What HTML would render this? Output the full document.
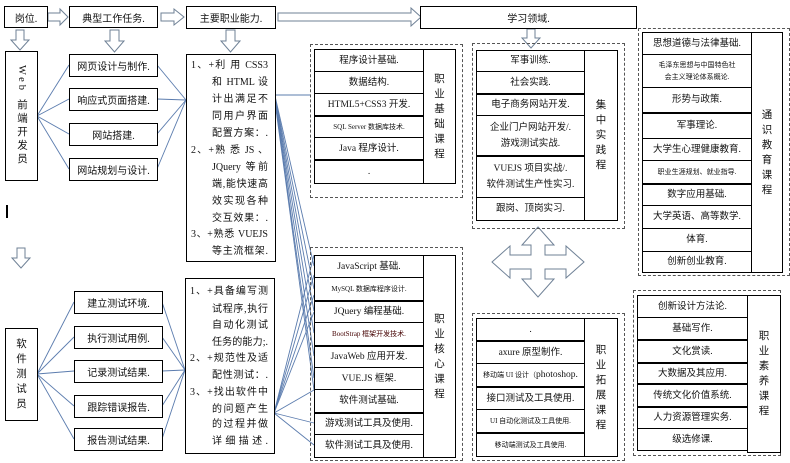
<!DOCTYPE html>
<html><head><meta charset="utf-8"><style>
body{margin:0;width:790px;height:463px;background:#fff;position:relative;overflow:hidden;font-family:"Liberation Serif","Noto Sans CJK SC",sans-serif;color:#111}
.b{position:absolute;border:1px solid #000;box-sizing:border-box;display:flex;align-items:center;justify-content:center;font-size:10px;background:#fff;white-space:nowrap}
.d{position:absolute;border:1px dashed #555;box-sizing:border-box}
.t{position:absolute;font-size:10px;line-height:12px;white-space:nowrap}
.j{text-align:justify;text-align-last:justify}
.v{position:absolute;border:1px solid #000;box-sizing:border-box;font-size:10.5px;line-height:15px;text-align:center;display:flex;align-items:center;justify-content:center;background:#fff}
.r{position:absolute;border:1px solid #000;box-sizing:border-box;font-size:9.5px;display:flex;align-items:center;justify-content:center;text-align:center;line-height:16px;background:#fff;white-space:nowrap}
.s{font-size:7px}
</style></head><body>
<svg width="790" height="463" style="position:absolute;left:0;top:0">
<g fill="#fff" stroke="#6f8196" stroke-width="1">
<polygon points="48,13 60,13 60,9 68,17 60,25 60,21 48,21"/>
<polygon points="161,13 174,13 174,9 184,17 174,25 174,21 161,21"/>
<polygon points="278,13 411,13 411,8 421,17 411,26 411,21 278,21"/>
<polygon points="16,30 24,30 24,40 29,40 20,50 11,40 16,40"/>
<polygon points="110,30 119,30 119,41 124,41 114.5,52 105,41 110,41"/>
<polygon points="226,30 235,30 235,41 240,41 230.5,52 221,41 226,41"/>
<polygon points="527,29 535,29 535,38 540,38 531,48 522,38 527,38"/>
<polygon points="17,248 25,248 25,258 30,258 21,268 12,258 17,258"/>
<polygon points="538,227 554,245 545,245 545,255 566,255 566,246 584,262 566,278 566,269 545,269 545,279 554,279 538,297 522,279 531,279 531,269 510,269 510,278 492,262 510,246 510,255 531,255 531,245 522,245"/>
</g>
<g stroke="#5b7cae" stroke-width="0.9" fill="none">
<line x1="37" y1="116" x2="69" y2="65"/><line x1="37" y1="116" x2="69" y2="99"/><line x1="37" y1="116" x2="69" y2="134"/><line x1="37" y1="116" x2="69" y2="169"/>
<line x1="157" y1="65" x2="186" y2="100"/><line x1="157" y1="99" x2="186" y2="100"/><line x1="157" y1="134" x2="186" y2="100"/><line x1="157" y1="169" x2="186" y2="100"/>
<line x1="37" y1="374" x2="74" y2="302"/><line x1="37" y1="374" x2="74" y2="337"/><line x1="37" y1="374" x2="74" y2="371"/><line x1="37" y1="374" x2="74" y2="406"/><line x1="37" y1="374" x2="74" y2="439"/>
<line x1="162" y1="302" x2="185" y2="370"/><line x1="162" y1="337" x2="185" y2="370"/><line x1="162" y1="371" x2="185" y2="370"/><line x1="162" y1="406" x2="185" y2="370"/><line x1="162" y1="439" x2="185" y2="370"/>
<line x1="275" y1="95" x2="310" y2="95"/>
<line x1="275" y1="96" x2="314" y2="266"/><line x1="275" y1="97" x2="314" y2="289"/><line x1="275" y1="98" x2="314" y2="311"/><line x1="275" y1="99" x2="314" y2="333"/><line x1="275" y1="100" x2="314" y2="356"/><line x1="275" y1="101" x2="314" y2="378"/><line x1="275" y1="102" x2="314" y2="390"/>
<line x1="274" y1="413" x2="314" y2="255"/><line x1="274" y1="413" x2="314" y2="275"/><line x1="274" y1="413" x2="314" y2="295"/><line x1="274" y1="413" x2="314" y2="312"/>
<line x1="274" y1="413" x2="314" y2="390"/><line x1="274" y1="413" x2="314" y2="423"/><line x1="274" y1="413" x2="314" y2="445"/>
</g>
<rect x="6" y="205" width="2" height="13" fill="#000"/>
</svg>

<div class="b" style="left:4px;top:6px;width:44px;height:22px">岗位.</div>
<div class="b" style="left:69px;top:6px;width:89px;height:22px">典型工作任务.</div>
<div class="b" style="left:186px;top:6px;width:90px;height:23px">主要职业能力.</div>
<div class="b" style="left:420px;top:6px;width:217px;height:23px">学习领域.</div>

<div class="v" style="left:5px;top:51px;width:33px;height:130px"><span style="writing-mode:vertical-rl;letter-spacing:3px">Web 前端开发员</span></div>
<div class="v" style="left:5px;top:328px;width:33px;height:93px">软<br>件<br>测<br>试<br>员</div>

<div class="b" style="left:69px;top:54px;width:89px;height:23px">网页设计与制作.</div>
<div class="b" style="left:69px;top:88px;width:89px;height:23px">响应式页面搭建.</div>
<div class="b" style="left:69px;top:123px;width:89px;height:23px">网站搭建.</div>
<div class="b" style="left:69px;top:158px;width:89px;height:23px">网站规划与设计.</div>

<div class="b" style="left:74px;top:291px;width:89px;height:23px">建立测试环境.</div>
<div class="b" style="left:74px;top:326px;width:89px;height:23px">执行测试用例.</div>
<div class="b" style="left:74px;top:360px;width:89px;height:23px">记录测试结果.</div>
<div class="b" style="left:74px;top:395px;width:89px;height:23px">跟踪错误报告.</div>
<div class="b" style="left:74px;top:428px;width:89px;height:23px">报告测试结果.</div>

<div class="b" style="left:186px;top:54px;width:90px;height:208px"></div>
<div class="t j" style="left:191px;top:60px;width:77px">1、+利 用 CSS3</div>
<div class="t j" style="left:212px;top:77px;width:56px">和 HTML 设</div>
<div class="t j" style="left:212px;top:94px;width:56px">计出满足不</div>
<div class="t j" style="left:212px;top:111px;width:56px">同用户界面</div>
<div class="t j" style="left:212px;top:128px;width:56px">配置方案：.</div>
<div class="t j" style="left:191px;top:145px;width:77px">2、+熟 悉 JS 、</div>
<div class="t j" style="left:212px;top:162px;width:56px">JQuery 等前</div>
<div class="t j" style="left:212px;top:179px;width:56px">端,能快速高</div>
<div class="t j" style="left:212px;top:196px;width:56px">效实现各种</div>
<div class="t j" style="left:212px;top:213px;width:56px">交互效果：.</div>
<div class="t j" style="left:191px;top:229px;width:77px">3、+熟悉 VUEJS</div>
<div class="t j" style="left:212px;top:246px;width:56px">等主流框架.</div>

<div class="b" style="left:185px;top:278px;width:90px;height:176px"></div>
<div class="t j" style="left:190px;top:286px;width:78px">1、+具备编写测</div>
<div class="t j" style="left:212px;top:304px;width:56px">试程序,执行</div>
<div class="t j" style="left:212px;top:320px;width:56px">自动化测试</div>
<div class="t j" style="left:212px;top:337px;width:56px">任务的能力;.</div>
<div class="t j" style="left:190px;top:353px;width:78px">2、+规范性及适</div>
<div class="t j" style="left:212px;top:370px;width:56px">配性测试：.</div>
<div class="t j" style="left:190px;top:387px;width:78px">3、+找出软件中</div>
<div class="t j" style="left:212px;top:404px;width:56px">的问题产生</div>
<div class="t j" style="left:212px;top:419px;width:56px">的过程并做</div>
<div class="t j" style="left:212px;top:436px;width:56px">详细描述.</div>

<!-- 职业基础课程 -->
<div class="d" style="left:310px;top:44px;width:153px;height:154px"></div>
<div class="r" style="left:314px;top:49px;width:110px;height:23px">程序设计基础.</div>
<div class="r" style="left:314px;top:71px;width:110px;height:23px">数据结构.</div>
<div class="r" style="left:314px;top:93px;width:110px;height:23px">HTML5+CSS3 开发.</div>
<div class="r" style="left:314px;top:115px;width:110px;height:23px;border-top-width:2px"><span class="s">SQL Server 数据库技术.</span></div>
<div class="r" style="left:314px;top:137px;width:110px;height:23px">Java 程序设计.</div>
<div class="r" style="left:314px;top:159px;width:110px;height:25px;border-top-width:2px">.</div>
<div class="v" style="left:423px;top:49px;width:33px;height:135px">职<br>业<br>基<br>础<br>课<br>程</div>

<!-- 集中实践课程 -->
<div class="d" style="left:472px;top:43px;width:153px;height:186px"></div>
<div class="r" style="left:476px;top:50px;width:109px;height:22px">军事训练.</div>
<div class="r" style="left:476px;top:71px;width:109px;height:23px">社会实践.</div>
<div class="r" style="left:476px;top:93px;width:109px;height:23px;border-top-width:2px">电子商务网站开发.</div>
<div class="r" style="left:476px;top:115px;width:109px;height:41px">企业门户网站开发/.<br>游戏测试实战.</div>
<div class="r" style="left:476px;top:155px;width:109px;height:43px;border-top-width:2px">VUEJS 项目实战/.<br>软件测试生产性实习.</div>
<div class="r" style="left:476px;top:197px;width:109px;height:24px">跟岗、顶岗实习.</div>
<div class="v" style="left:584px;top:50px;width:34px;height:171px">集<br>中<br>实<br>践<br>程</div>

<!-- 通识教育课程 -->
<div class="d" style="left:638px;top:28px;width:152px;height:248px"></div>
<div class="r" style="left:642px;top:32px;width:110px;height:23px">思想道德与法律基础.</div>
<div class="r" style="left:642px;top:54px;width:110px;height:34px;line-height:12px"><span class="s">毛泽东思想与中国特色社<br>会主义理论体系概论.</span></div>
<div class="r" style="left:642px;top:87px;width:110px;height:26px">形势与政策.</div>
<div class="r" style="left:642px;top:112px;width:110px;height:27px;border-top-width:2px">军事理论.</div>
<div class="r" style="left:642px;top:138px;width:110px;height:23px">大学生心理健康教育.</div>
<div class="r" style="left:642px;top:160px;width:110px;height:24px"><span class="s">职业生涯规划、就业指导.</span></div>
<div class="r" style="left:642px;top:183px;width:110px;height:23px;border-top-width:2px">数字应用基础.</div>
<div class="r" style="left:642px;top:205px;width:110px;height:24px">大学英语、高等数学.</div>
<div class="r" style="left:642px;top:228px;width:110px;height:24px">体育.</div>
<div class="r" style="left:642px;top:251px;width:110px;height:22px">创新创业教育.</div>
<div class="v" style="left:751px;top:32px;width:32px;height:241px">通<br>识<br>教<br>育<br>课<br>程</div>

<!-- 职业核心课程 -->
<div class="d" style="left:310px;top:247px;width:153px;height:214px"></div>
<div class="r" style="left:314px;top:255px;width:110px;height:23px">JavaScript 基础.</div>
<div class="r" style="left:314px;top:277px;width:110px;height:24px"><span class="s">MySQL 数据库程序设计.</span></div>
<div class="r" style="left:314px;top:300px;width:110px;height:23px;border-top-width:2px">JQuery 编程基础.</div>
<div class="r" style="left:314px;top:322px;width:110px;height:24px"><span class="s" style="color:#400">BootStrap 框架开发技术.</span></div>
<div class="r" style="left:314px;top:345px;width:110px;height:23px;border-top-width:2px">JavaWeb 应用开发.</div>
<div class="r" style="left:314px;top:367px;width:110px;height:23px">VUE.JS 框架.</div>
<div class="r" style="left:314px;top:389px;width:110px;height:24px">软件测试基础.</div>
<div class="r" style="left:314px;top:412px;width:110px;height:23px;border-top-width:2px">游戏测试工具及使用.</div>
<div class="r" style="left:314px;top:434px;width:110px;height:24px">软件测试工具及使用.</div>
<div class="v" style="left:423px;top:255px;width:33px;height:203px">职<br>业<br>核<br>心<br>课<br>程</div>

<!-- 职业拓展课程 -->
<div class="d" style="left:472px;top:313px;width:153px;height:148px"></div>
<div class="r" style="left:476px;top:318px;width:109px;height:23px">.</div>
<div class="r" style="left:476px;top:340px;width:109px;height:24px;border-top-width:2px">axure 原型制作.</div>
<div class="r" style="left:476px;top:363px;width:109px;height:24px"><span class="s">移动端 UI 设计（</span>photoshop.</div>
<div class="r" style="left:476px;top:386px;width:109px;height:24px;border-top-width:2px">接口测试及工具使用.</div>
<div class="r" style="left:476px;top:409px;width:109px;height:24px"><span class="s">UI 自动化测试及工具使用.</span></div>
<div class="r" style="left:476px;top:432px;width:109px;height:25px;border-top-width:2px"><span class="s">移动端测试及工具使用.</span></div>
<div class="v" style="left:584px;top:318px;width:34px;height:139px">职<br>业<br>拓<br>展<br>课<br>程</div>

<!-- 职业素养课程 -->
<div class="d" style="left:633px;top:290px;width:148px;height:166px"></div>
<div class="r" style="left:637px;top:295px;width:111px;height:23px">创新设计方法论.</div>
<div class="r" style="left:637px;top:317px;width:111px;height:23px">基础写作.</div>
<div class="r" style="left:637px;top:339px;width:111px;height:24px;border-top-width:2px">文化赏读.</div>
<div class="r" style="left:637px;top:362px;width:111px;height:22px;border-top-width:2px">大数据及其应用.</div>
<div class="r" style="left:637px;top:383px;width:111px;height:24px;border-top-width:2px">传统文化价值系统.</div>
<div class="r" style="left:637px;top:406px;width:111px;height:23px;border-top-width:2px">人力资源管理实务.</div>
<div class="r" style="left:637px;top:428px;width:111px;height:23px">级选修课.</div>
<div class="v" style="left:747px;top:295px;width:34px;height:158px">职<br>业<br>素<br>养<br>课<br>程</div>
</body></html>
